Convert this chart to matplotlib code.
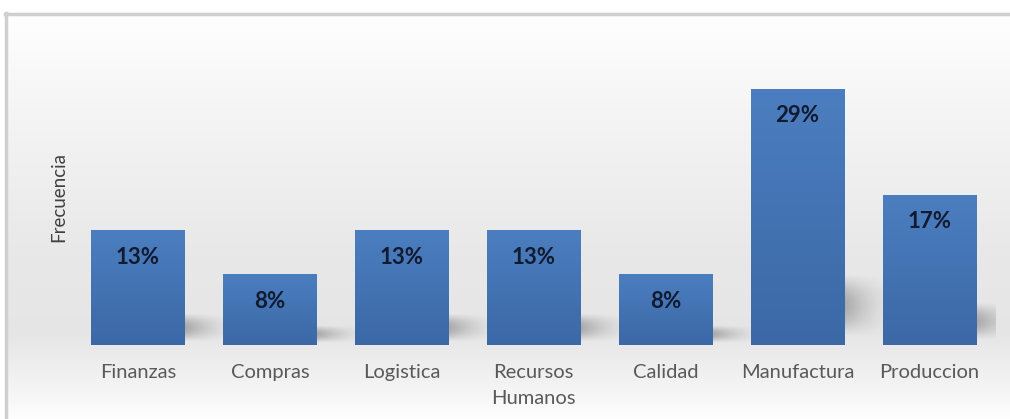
import numpy as np
import matplotlib
matplotlib.use("Agg")
from matplotlib import pyplot as plt
from matplotlib.colors import to_rgb

areas = ["Finanzas", "Compras", "Logistica", "Recursos\nHumanos", "Calidad", "Manufactura", "Produccion"]
pct = [13, 8, 13, 13, 8, 29, 17]

plt.rcParams["font.family"] = ["Lato", "DejaVu Sans"]

fig = plt.figure(figsize=(10.1, 4.19), dpi=100)

# background panel: vertical grey gradient + frame lines
bg = fig.add_axes([0, 0, 1, 1], zorder=-1)
bg.set_xlim(0, 1010)
bg.set_ylim(419, 0)
bg.axis("off")
ys = np.array([13, 100, 250, 330, 380, 419])
gs = np.array([0.995, 0.96, 0.91, 0.90, 0.95, 0.995])
col = np.interp(np.arange(419), ys, gs)
img = np.repeat(col[:, None], 2, axis=1)
bg.imshow(np.dstack([img] * 3), extent=[5, 1010, 419, 13], aspect="auto", zorder=0)
bg.plot([5, 1010], [14, 14], color="#cfcfcf", lw=2.5, zorder=1)
bg.plot([5.5, 5.5], [13, 419], color="#cfcfcf", lw=2.5, zorder=1)

ax = fig.add_axes([72 / 1010, 74 / 419, 923.5 / 1010, 315 / 419])
ax.set_xlim(-0.5, len(areas) - 0.5)
ax.set_ylim(0, 35.7)
ax.patch.set_alpha(0)
for s in ax.spines.values():
    s.set_visible(False)
ax.set_yticks([])
ax.tick_params(axis="x", length=0, pad=14)
ax.set_xticks(range(len(areas)))
ax.set_xticklabels(areas, fontsize=14.5, color="#595959", linespacing=1.6)
ax.set_ylabel("Frecuencia", fontsize=13.5, color="#404040")
ax.yaxis.set_label_coords(-0.005, 0.47)

w = 0.705
top = np.array(to_rgb("#4b7ec0"))
bot = np.array(to_rgb("#3c68a6"))
grad = np.linspace(0, 1, 64)[:, None]
bar_img = (top[None, :] * (1 - grad) + bot[None, :] * grad)[:, None, :]

# soft shadow cast to the right of each bar
u = np.linspace(0, 1, 60)
t = np.linspace(0, 1, 40)
U, T = np.meshgrid(u, t)
sh_alpha = 0.3 * (1 - U) ** 1.6 * np.sin(np.pi * T) ** 1.2
shadow = np.zeros((40, 60, 4))
shadow[..., 3] = sh_alpha

for i, v in enumerate(pct):
    x0 = i - w / 2
    ax.imshow(shadow, extent=[i + w / 2 - 0.03, i + w / 2 + 0.4, v * 0.03, v * 0.28],
              aspect="auto", zorder=1, interpolation="bilinear")
    ax.bar(i, v, width=w, color="#4474b4", zorder=2)
    ax.imshow(bar_img, extent=[x0, x0 + w, 0, v], aspect="auto", zorder=3)
    ax.text(i, v - 1.85, f"{v}%", ha="center", va="top", fontsize=16,
            fontweight="bold", color="#111a2e", zorder=4)

ax.set_xlim(-0.5, len(areas) - 0.5)
ax.set_ylim(0, 35.7)

fig.savefig("out.png", dpi=100)
